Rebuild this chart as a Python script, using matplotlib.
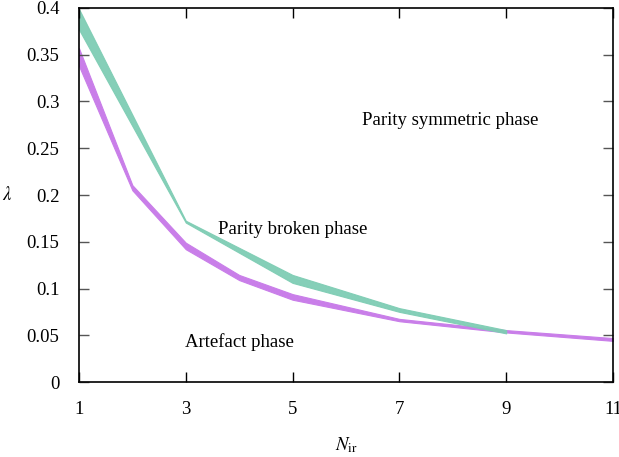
import matplotlib.pyplot as plt
import numpy as np

plt.rcParams['font.family'] = ['Liberation Serif', 'DejaVu Serif']
plt.rcParams['mathtext.fontset'] = 'stix'

# green band: parity broken / symmetric boundary
green_x = [1, 3, 5, 7, 9]
green_lo = [0.377, 0.1705, 0.106, 0.075, 0.052]
green_hi = [0.399, 0.1725, 0.1145, 0.079, 0.0555]

# purple band: artefact / parity broken boundary
purple_x = [1, 2, 3, 4, 5, 7, 9, 11]
purple_lo = [0.338, 0.205, 0.142, 0.109, 0.088, 0.065, 0.053, 0.044]
purple_hi = [0.357, 0.2105, 0.149, 0.1145, 0.094, 0.0675, 0.0555, 0.047]

xticks = [1, 3, 5, 7, 9, 11]
yticks = [0, 0.05, 0.1, 0.15, 0.2, 0.25, 0.3, 0.35, 0.4]
ylabels = ['0', '0.05', '0.1', '0.15', '0.2', '0.25', '0.3', '0.35', '0.4']

fs = 13.5

fig = plt.figure(figsize=(6.19, 4.57), dpi=100)
ax = fig.add_axes([0.1276, 0.1641, 0.8627, 0.8184])

ax.fill_between(purple_x, purple_lo, purple_hi, color='#c97ee9', lw=0.8,
                edgecolor='#c97ee9')
ax.fill_between(green_x, green_lo, green_hi, color='#7fcdb4', lw=0.8,
                edgecolor='#7fcdb4', alpha=0.95)

ax.text(6.30, 0.280, 'Parity symmetric phase', fontsize=fs, va='center')
ax.text(3.60, 0.1626, 'Parity broken phase', fontsize=fs, va='center')
ax.text(2.985, 0.0428, 'Artefact phase', fontsize=fs, va='center')

ax.set_xlim(1, 11)
ax.set_ylim(0, 0.4)
ax.set_xticks(xticks)
ax.set_yticks(yticks)
ax.set_yticklabels(ylabels)
ax.tick_params(direction='in', length=7, width=1, labelsize=fs,
               top=True, right=True)
ax.tick_params(axis='y', colors='#555555', labelcolor='black', pad=14)
ax.tick_params(axis='x', pad=14)
for s in ax.spines.values():
    s.set_linewidth(1.2)

ax.set_xlabel(r'$N_{\rm ir}$', fontsize=fs, labelpad=12)
ax.set_ylabel(r'$\lambda$', fontsize=fs, rotation=0, labelpad=14, va='center')

fig.savefig('out.png', dpi=100)
